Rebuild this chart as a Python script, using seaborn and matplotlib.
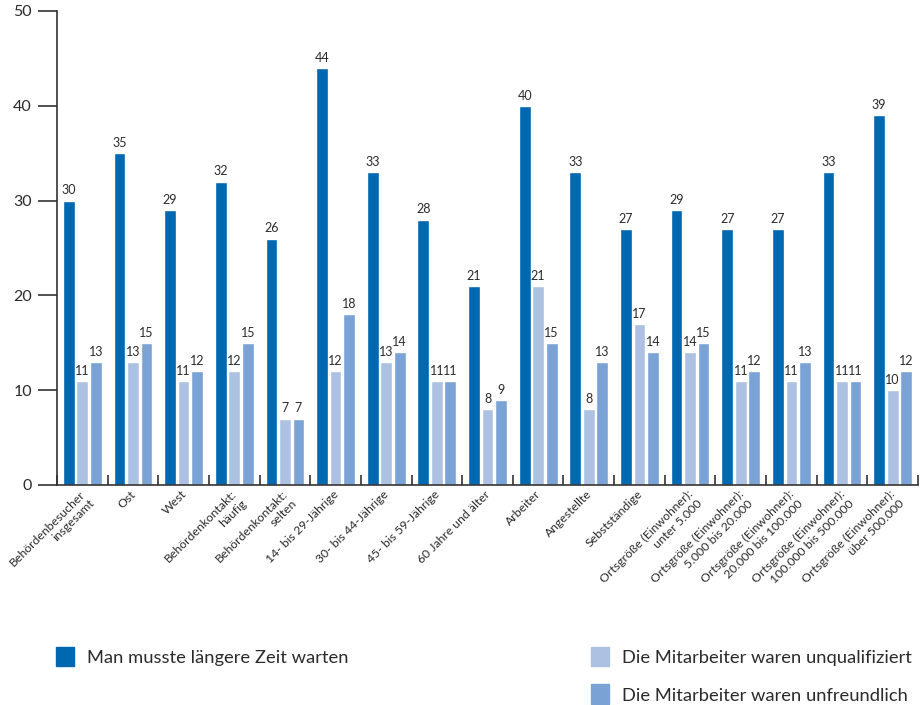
import numpy as np
import pandas as pd
import seaborn as sns
import matplotlib.pyplot as plt
import matplotlib.transforms as mtransforms
from matplotlib.patches import Patch

categories = [
    "Behördenbesucher\ninsgesamt", "Ost", "West", "Behördenkontakt:\nhäufig",
    "Behördenkontakt:\nselten", "14- bis 29-Jährige", "30- bis 44-Jährige",
    "45- bis 59-Jährige", "60 Jahre und älter", "Arbeiter", "Angestellte",
    "Sebstständige", "Ortsgröße (Einwohner):\nunter 5.000",
    "Ortsgröße (Einwohner):\n5.000 bis 20.000", "Ortsgröße (Einwohner):\n20.000 bis 100.000",
    "Ortsgröße (Einwohner):\n100.000 bis 500.000", "Ortsgröße (Einwohner):\nüber 500.000",
]
warten = [30, 35, 29, 32, 26, 44, 33, 28, 21, 40, 33, 27, 29, 27, 27, 33, 39]
unqualifiziert = [11, 13, 11, 12, 7, 12, 13, 11, 8, 21, 8, 17, 14, 11, 11, 11, 10]
unfreundlich = [13, 15, 12, 15, 7, 18, 14, 11, 9, 15, 13, 14, 15, 12, 13, 11, 12]
series = ["Man musste längere Zeit warten", "Die Mitarbeiter waren unqualifiziert",
          "Die Mitarbeiter waren unfreundlich"]
colors = ["#0067b1", "#adc2e2", "#7aa2d4"]

df = pd.DataFrame({
    "Gruppe": categories * 3,
    "Wert": warten + unqualifiziert + unfreundlich,
    "Serie": [series[0]] * 17 + [series[1]] * 17 + [series[2]] * 17,
})

sns.set_style("white")
plt.rcParams["font.family"] = ["Lato", "DejaVu Sans"]
txt = "#2b2b2b"

fig = plt.figure(figsize=(9.21, 7.05), dpi=100)
ax = fig.add_axes([57 / 921, 1 - 485 / 705, 861 / 921, 474 / 705])
sns.barplot(data=df, x="Gruppe", y="Wert", hue="Serie", hue_order=series,
            palette=colors, saturation=1, width=0.8, gap=0.13, legend=False, ax=ax)

for c in ax.containers:
    ax.bar_label(c, fmt="%d", padding=3, fontsize=9, color=txt)

ax.set_ylim(0, 50)
ax.set_xlim(-0.5, 16.5)
ax.set_yticks(range(0, 51, 10))
ax.set_xlabel("")
ax.set_ylabel("")
sns.despine(ax=ax)
for s in ["left", "bottom"]:
    ax.spines[s].set_color("#333333")
    ax.spines[s].set_linewidth(1.2)
ax.tick_params(axis="y", length=14, width=1.2, color="#333333", labelsize=11.5,
               labelcolor=txt, pad=4, left=True)
ax.set_xticks(np.arange(17))
ax.set_xticklabels(categories, rotation=45, ha="right", rotation_mode="anchor",
                   multialignment="right", fontsize=8.8, color=txt)
ax.tick_params(axis="x", which="major", length=0, pad=4)
shift = mtransforms.ScaledTranslation(-3 / 100, 2 / 100, fig.dpi_scale_trans)
for lab in ax.get_xticklabels():
    lab.set_transform(lab.get_transform() + shift)
ax.set_xticks(np.arange(-0.5, 17, 1), minor=True)
ax.tick_params(axis="x", which="minor", direction="in", length=7, width=1.2,
               color="#333333", bottom=True)

h = [Patch(color=c) for c in colors]
fig.legend([h[0]], [series[0]], loc="upper left", bbox_to_anchor=(39 / 921, 1 - 630 / 705),
           frameon=False, fontsize=13.2, handlelength=1.0, handleheight=1.3,
           handletextpad=0.7, labelcolor=txt)
fig.legend(h[1:], series[1:], loc="upper left", bbox_to_anchor=(574 / 921, 1 - 630 / 705),
           frameon=False, fontsize=13.2, handlelength=1.0, handleheight=1.3,
           handletextpad=0.7, labelspacing=0.98, labelcolor=txt)

fig.savefig("out.png", dpi=100)
